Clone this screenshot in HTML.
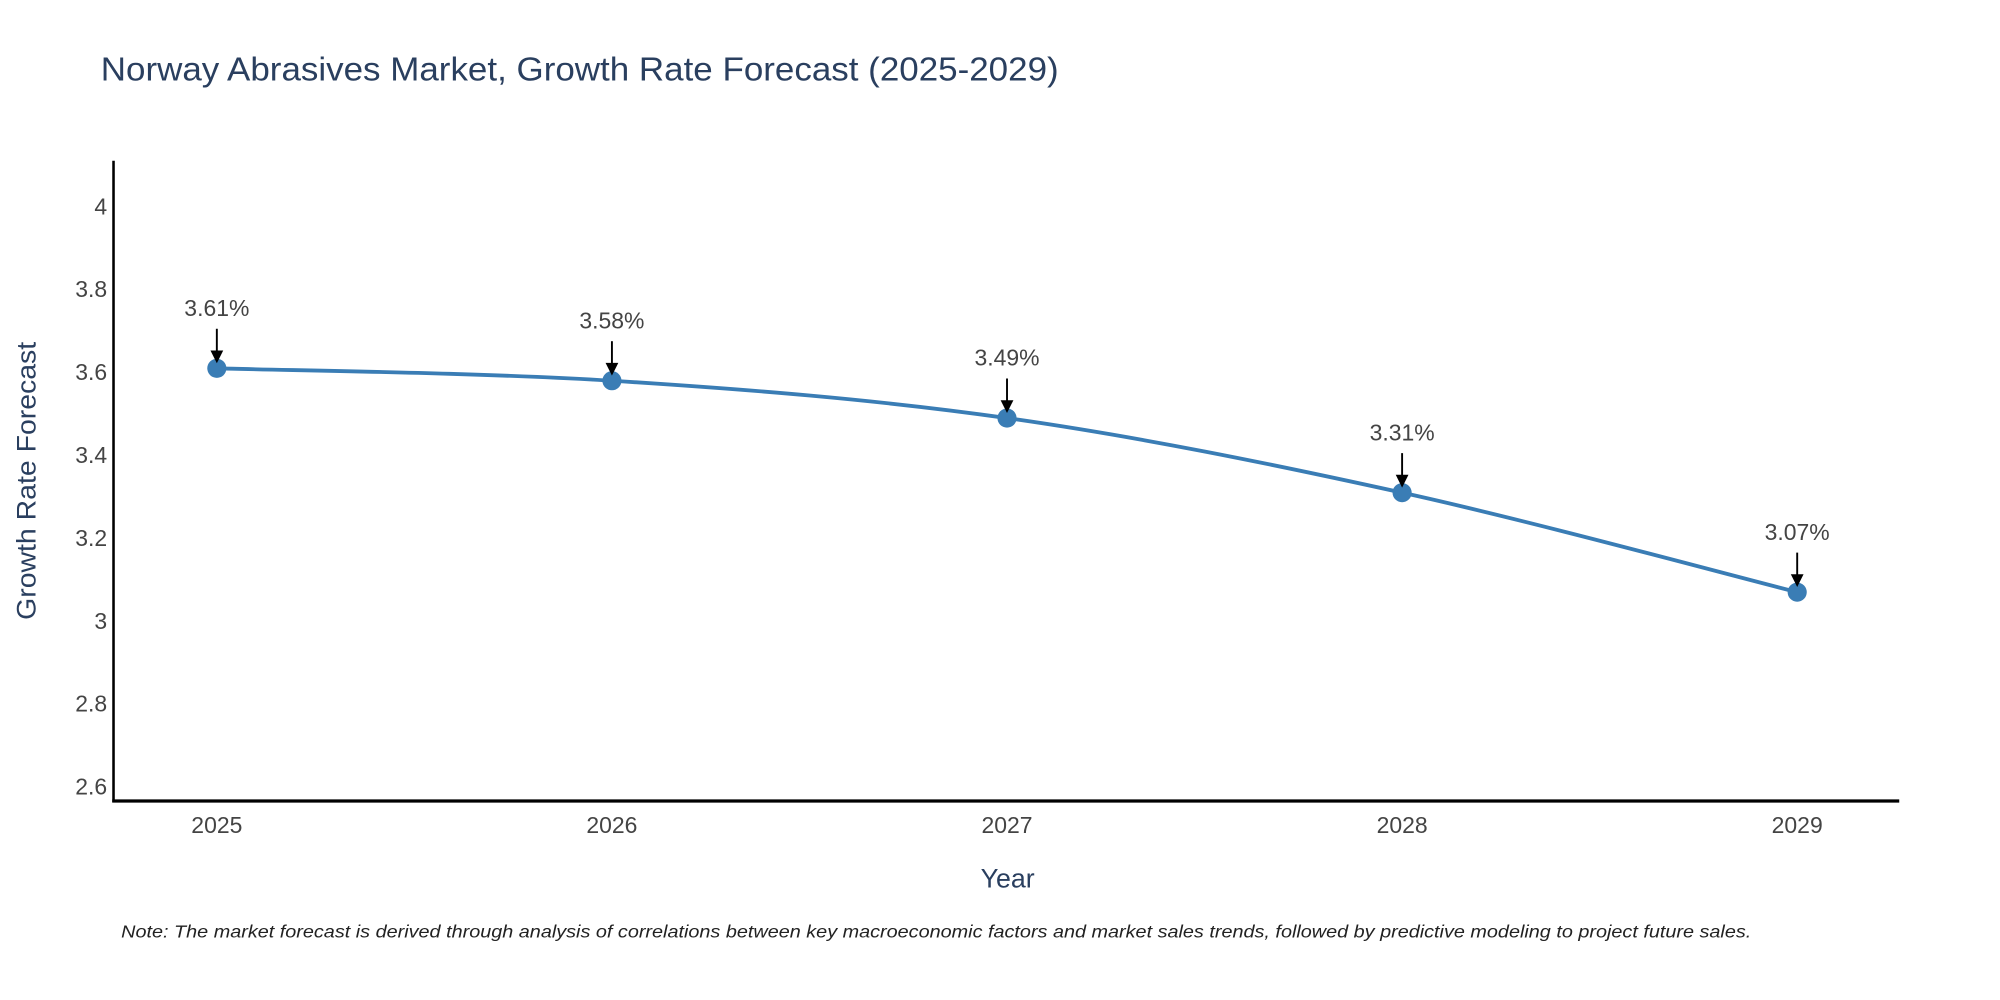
<!DOCTYPE html>
<html><head><meta charset="utf-8"><style>
html,body{margin:0;padding:0;background:#fff;}
svg{display:block;font-family:"Liberation Sans",sans-serif;}
</style></head><body>
<svg id="chart" width="2000" height="1000" viewBox="0 0 1568 784" preserveAspectRatio="none" xmlns="http://www.w3.org/2000/svg">
<text x="79" y="63" font-size="26" fill="#2a3f5f" textLength="751" lengthAdjust="spacingAndGlyphs">Norway Abrasives Market, Growth Rate Forecast (2025-2029)</text>
<g id="yticks"></g><g id="xticks"></g>
<line x1="89" y1="126" x2="89" y2="629" stroke="#000" stroke-width="2"/>
<line x1="88" y1="628" x2="1489" y2="628" stroke="#000" stroke-width="2.5"/>
<text transform="translate(28,377) rotate(-90)" text-anchor="middle" font-size="21" fill="#2a3f5f" textLength="218" lengthAdjust="spacingAndGlyphs">Growth Rate Forecast</text>
<text x="790" y="696" text-anchor="middle" font-size="21" fill="#2a3f5f">Year</text>
<g id="series"></g>
<text x="95" y="735" font-size="14" font-style="italic" fill="#222" textLength="1278" lengthAdjust="spacingAndGlyphs">Note: The market forecast is derived through analysis of correlations between key macroeconomic factors and market sales trends, followed by predictive modeling to project future sales.</text>
</svg>
<script>
const years = [2025, 2026, 2027, 2028, 2029];
const growth = [3.61, 3.58, 3.49, 3.31, 3.07];
const yTickVals = [2.6, 2.8, 3, 3.2, 3.4, 3.6, 3.8, 4];
const yTickLabels = ["2.6", "2.8", "3", "3.2", "3.4", "3.6", "3.8", "4"];
const NS = "http://www.w3.org/2000/svg";
function xs(v){return 170 + (v - 2025) * 309.75;}
function ys(v){return 487 - (v - 3) * 325;}
function mk(tag, attrs, parent){const e=document.createElementNS(NS,tag);for(const k in attrs)e.setAttribute(k,attrs[k]);parent.appendChild(e);return e;}
const yt=document.getElementById('yticks');
yTickVals.forEach((v,i)=>{
  const t=mk('text',{x:84,y:ys(v)+6,'text-anchor':'end','font-size':18,fill:'#444'},yt);
  
  
  t.textContent=yTickLabels[i];
});
const xt=document.getElementById('xticks');
years.forEach(y=>{
  const t=mk('text',{x:xs(y),y:653,'text-anchor':'middle','font-size':18,fill:'#444'},xt);
  
  
  t.textContent=String(y);
});
const s=document.getElementById('series');
const P=years.map((y,i)=>[xs(y),ys(growth[i])]);
let d='M'+P[0][0]+','+P[0][1];
for(let i=0;i<P.length-1;i++){
  const p0=P[Math.max(0,i-1)],p1=P[i],p2=P[i+1],p3=P[Math.min(P.length-1,i+2)];
  const k=1/6;
  d+=' C'+(p1[0]+(p2[0]-p0[0])*k)+','+(p1[1]+(p2[1]-p0[1])*k)+' '+(p2[0]-(p3[0]-p1[0])*k)+','+(p2[1]-(p3[1]-p1[1])*k)+' '+p2[0]+','+p2[1];
}
const line=mk('path',{d:d,fill:'none',stroke:'#3a7db5','stroke-width':3},s);


P.forEach((p,i)=>{
  const c=mk('circle',{cx:p[0],cy:p[1],r:7.5,fill:'#3a7db5'},s);
  
  
  const a=mk('line',{x1:p[0],y1:p[1]-31,x2:p[0],y2:p[1]-12,stroke:'#000','stroke-width':1.5},s);
  
  
  const h=mk('polygon',{points:(p[0]-5)+','+(p[1]-14)+' '+(p[0]+5)+','+(p[1]-14)+' '+p[0]+','+(p[1]-4),fill:'#000'},s);
  
  
  const t=mk('text',{x:p[0],y:p[1]-41,'text-anchor':'middle','font-size':18,fill:'#444'},s);
  
  
  t.textContent=growth[i].toFixed(2)+'%';
});
</script>
</body></html>
